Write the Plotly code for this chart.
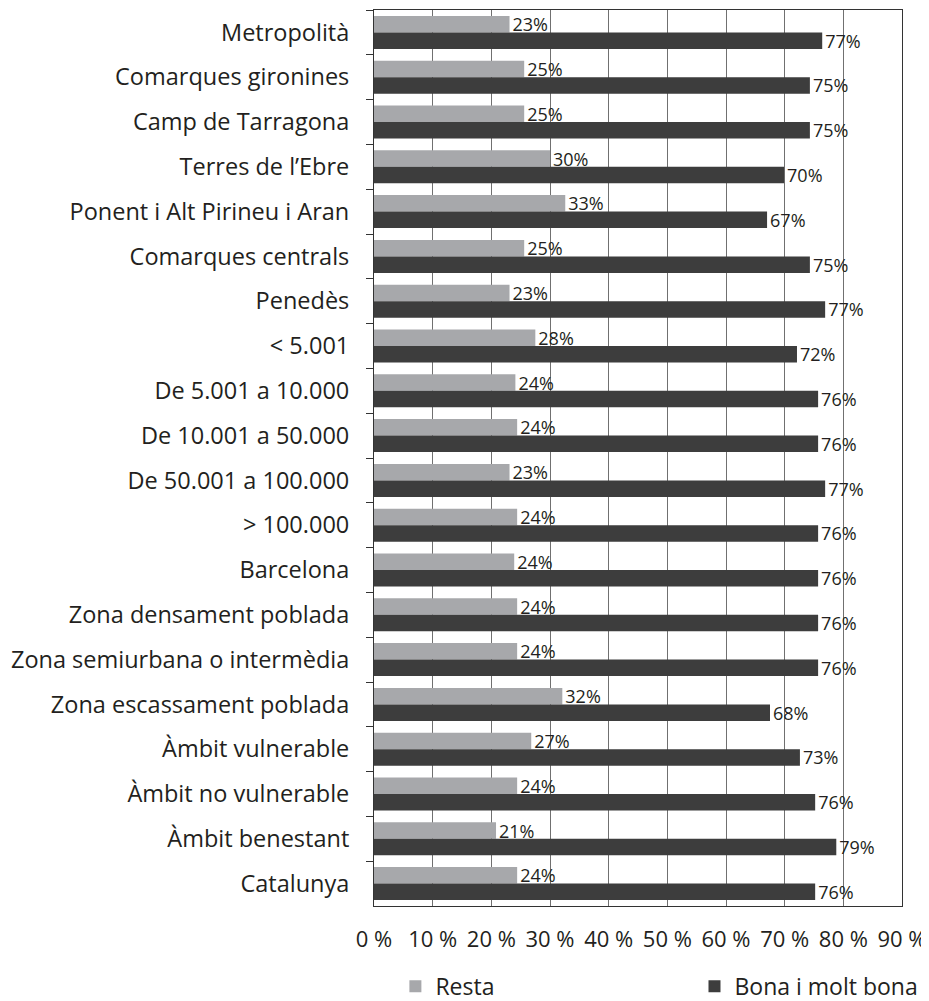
import plotly.graph_objects as go

categories = [
    "Metropolità", "Comarques gironines", "Camp de Tarragona", "Terres de l’Ebre",
    "Ponent i Alt Pirineu i Aran", "Comarques centrals", "Penedès", "< 5.001",
    "De 5.001 a 10.000", "De 10.001 a 50.000", "De 50.001 a 100.000", "> 100.000",
    "Barcelona", "Zona densament poblada", "Zona semiurbana o intermèdia",
    "Zona escassament poblada", "Àmbit vulnerable", "Àmbit no vulnerable",
    "Àmbit benestant", "Catalunya",
]

# bar lengths (percent)
resta_values = [23.1, 25.6, 25.6, 30.0, 32.6, 25.6, 23.1, 27.5, 24.1, 24.4,
                23.1, 24.4, 23.9, 24.4, 24.4, 32.1, 26.8, 24.4, 20.8, 24.4]
bona_values = [76.4, 74.3, 74.3, 69.9, 67.0, 74.3, 76.9, 72.1, 75.7, 75.7,
               76.9, 75.7, 75.7, 75.7, 75.7, 67.5, 72.6, 75.2, 78.8, 75.2]

# data labels as printed
resta_labels = ["23%", "25%", "25%", "30%", "33%", "25%", "23%", "28%", "24%", "24%",
                "23%", "24%", "24%", "24%", "24%", "32%", "27%", "24%", "21%", "24%"]
bona_labels = ["77%", "75%", "75%", "70%", "67%", "75%", "77%", "72%", "76%", "76%",
               "77%", "76%", "76%", "76%", "76%", "68%", "73%", "76%", "79%", "76%"]

x_ticks = [0, 10, 20, 30, 40, 50, 60, 70, 80, 90]

FONT = "Open Sans"
TXT = "#231f20"

fig = go.Figure()
fig.add_trace(go.Bar(
    y=categories, x=resta_values, orientation="h", name="Resta",
    marker=dict(color="#a7a8ab", line=dict(width=0)),
    text=resta_labels, textposition="outside", constraintext="none",
    cliponaxis=False,
    outsidetextfont=dict(family=FONT, size=18, color=TXT),
    legend="legend",
))
fig.add_trace(go.Bar(
    y=categories, x=bona_values, orientation="h", name="Bona i molt bona",
    marker=dict(color="#3d3d3d", line=dict(width=0)),
    text=bona_labels, textposition="outside", constraintext="none",
    cliponaxis=False,
    outsidetextfont=dict(family=FONT, size=18, color=TXT),
    legend="legend2",
))

# the page body adds an 8px offset, so the figure is sized 8px smaller
fig.update_layout(
    width=921, height=993,
    margin=dict(l=366, r=27, t=2, b=95, autoexpand=False),
    paper_bgcolor="white", plot_bgcolor="white",
    font=dict(family=FONT, color=TXT),
    barmode="group", bargap=0.263, bargroupgap=0,
    showlegend=True,
    legend=dict(orientation="h", x=0.0405, y=-0.0895, xanchor="left", yanchor="middle",
                font=dict(family=FONT, size=23, color=TXT), bgcolor="rgba(0,0,0,0)"),
    legend2=dict(orientation="h", x=0.607, y=-0.0895, xanchor="left", yanchor="middle",
                 font=dict(family=FONT, size=23, color=TXT), bgcolor="rgba(0,0,0,0)"),
    xaxis=dict(
        range=[0, 90], tickvals=x_ticks, ticktext=[f"{v} %" for v in x_ticks],
        showgrid=True, gridcolor="#707070", gridwidth=1,
        zeroline=False, showline=True, linecolor="#333333", linewidth=1, mirror=True,
        ticks="", tickfont=dict(family=FONT, size=22, color=TXT),
        ticklabelstandoff=14, automargin=False,
    ),
    yaxis=dict(
        categoryorder="array", categoryarray=categories, autorange="reversed",
        showline=True, linecolor="#333333", linewidth=1, mirror=True,
        ticks="outside", ticklen=7, tickcolor="#333333", tickson="boundaries",
        showgrid=False, tickfont=dict(family=FONT, size=23.5, color=TXT),
        ticklabelstandoff=19, automargin=False,
    ),
)

fig.write_html("out.html")
